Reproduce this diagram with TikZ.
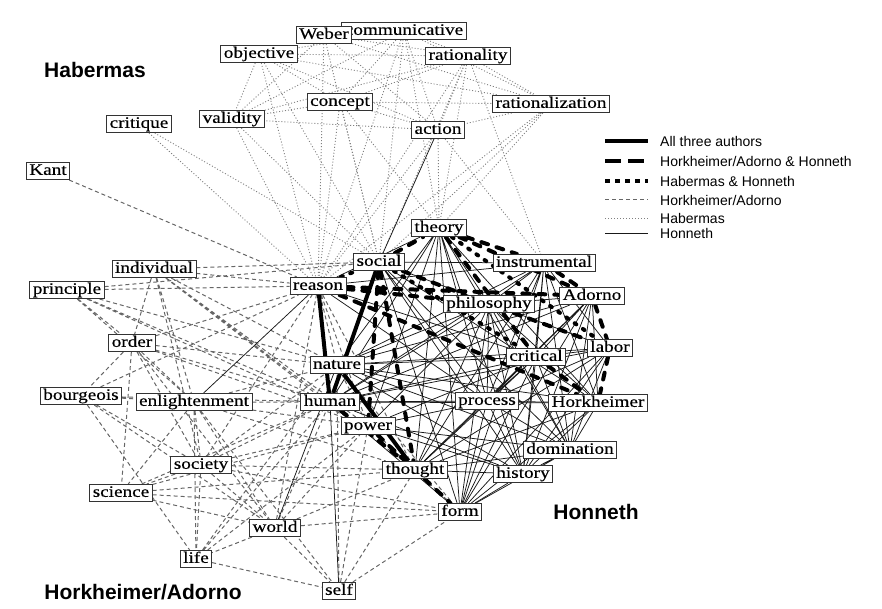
\documentclass[tikz,border=0pt]{standalone}
\usepackage{fontspec}
\newfontfamily\wordfont{Liberation Serif}[FakeStretch=1.2, FakeBold=0.4]
\newfontfamily\labelfont{Liberation Sans}
\usepackage{tikz}

\pgfdeclarelayer{edges}
\pgfsetlayers{edges,main}

\begin{document}
\begin{tikzpicture}[x=1pt, y=-1pt,
    word/.style={draw=black!80, fill=white, line width=0.8pt, inner xsep=3pt, inner ysep=1pt,
      text height=11.5pt, text depth=3.8pt, font=\wordfont\fontsize{16}{16}\selectfont},
    group/.style={font=\labelfont\bfseries\fontsize{21}{21}\selectfont},
    legendtext/.style={anchor=west, inner sep=0pt, font=\labelfont\fontsize{14}{14}\selectfont},
    allthree/.style={line width=4pt},
    hh/.style={line width=4pt, line cap=round, dash pattern=on 7pt off 9pt},
    hbh/.style={line width=4pt, line cap=round, dash pattern=on 2pt off 8pt},
    ha/.style={black!60, line width=1pt, dash pattern=on 4pt off 3pt},
    hab/.style={black!50, line width=0.9pt, dash pattern=on 1pt off 2pt},
    hon/.style={black!90, line width=0.75pt}]
			\useasboundingbox (0,0) rectangle (882,609);
			% Habermas
			\node[word] (Commun) at (404,31){communicative};
			\node[word] (Weber) at (324,35){Weber};
			\node[word] (Objective) at (259,54){objective};
			\node[word] (Rationality) at (468,56){rationality};
			\node[word] (Concept) at (340,102){concept};
			\node[word] (Rationalization) at (551,104){rationalization};
			\node[word] (Action) at (438,130){action};
			\node[word] (Validity) at (232,119){validity};
			\node[word] (Critique) at (139,124){critique};
			\node[word] (Kant) at (48,171){Kant};
			% Horkheimer/Adorno
			\node[word] (Individual) at (154,269){individual};
			\node[word] (Principle) at (67,290){principle};
			\node[word] (Order) at (132,343){order};
			\node[word] (Bourgeois) at (81,396){bourgeois};
			\node[word] (Enlight) at (194,402){enlightenment};
			\node[word] (Nature) at (337,365){nature};
			\node[word] (Human) at (330,402){human};
			\node[word] (Power) at (368,426){power};
			\node[word] (Society) at (201,465){society};
			\node[word] (Science) at (121,493){science};
			\node[word] (World) at (275,528){world};
			\node[word] (Life) at (196,559){life};
			\node[word] (Self) at (339,591){self};
			% Honneth
			\node[word] (Theory) at (439,228){theory};
			\node[word] (Reason) at (318,286){reason};
			\node[word] (Social) at (379,262){social};
			\node[word] (Instrumental) at (544,263){instrumental};
			\node[word] (Philosophy) at (489,304){philosophy};
			\node[word] (Adorno) at (592,296){Adorno};
			\node[word] (Critical) at (536,357){critical};
			\node[word] (Labor) at (610,348){labor};
			\node[word] (Process) at (487,401){process};
			\node[word] (Horkheimer) at (598,403){Horkheimer};
			\node[word] (Domination) at (570,450){domination};
			\node[word] (Thought) at (415,470){thought};
			\node[word] (History) at (523,474){history};
			\node[word] (Form) at (460,512){form};

			\node[group] (HabLabel) at (95,70){Habermas};
			\node[group] (HALabel) at (143,592){Horkheimer/Adorno};
			\node[group] (HonLabel) at (596,512){Honneth};

			\begin{pgfonlayer}{edges}
			% Habermas only
			\draw[hab] (Weber) -- (Rationality) (Weber) -- (Concept) (Weber) -- (Action)
				(Weber) -- (Reason) (Weber) -- (Social) (Weber) -- (Rationalization) (Weber) -- (Validity);
			\draw[hab] (Commun) -- (Objective) (Commun) -- (Rationality) (Commun) -- (Concept)
				(Commun) -- (Action) (Commun) -- (Rationalization) (Commun) -- (Reason)
				(Commun) -- (Social) (Commun) -- (Theory) (Commun) -- (Validity);
			\draw[hab] (Objective) -- (Rationality) (Objective) -- (Concept) (Objective) -- (Validity)
				(Objective) -- (Action) (Objective) -- (Reason) (Objective) -- (Social)
				(Objective) -- (Rationalization);
			\draw[hab] (Rationality) -- (Concept) (Rationality) -- (Action) (Rationality) -- (Rationalization)
				(Rationality) -- (Reason) (Rationality) -- (Social) (Rationality) -- (Theory)
				(Rationality) -- (Instrumental) (Rationality) -- (Validity);
			\draw[hab] (Concept) -- (Validity) (Concept) -- (Action) (Concept) -- (Rationalization)
				(Concept) -- (Reason) (Concept) -- (Social) (Concept) -- (Theory);
			\draw[hab] (Rationalization) -- (Action) (Rationalization) -- (Social)
				(Rationalization) -- (Reason) (Rationalization) -- (Theory);
			\draw[hab] (Action) -- (Validity) (Action) -- (Reason) (Action) -- (Theory) (Action) -- (Instrumental);
			\draw[hab] (Validity) -- (Reason) (Validity) -- (Social) (Critique) -- (Reason) (Critique) -- (Social);
			% Horkheimer/Adorno only
			\draw[ha] (Kant) -- (Reason);
			\draw[ha] (Individual) -- (Reason) (Individual) -- (Social) (Individual) -- (Nature)
				(Individual) -- (Human) (Individual) -- (Order) (Individual) -- (Enlight)
				(Individual) -- (Society) (Individual) -- (Power) (Individual) -- (Thought);
			\draw[ha] (Principle) -- (Reason) (Principle) -- (Social) (Principle) -- (Order)
				(Principle) -- (Nature) (Principle) -- (Human) (Principle) -- (Enlight) (Principle) -- (Power);
			\draw[ha] (Order) -- (Reason) (Order) -- (Nature) (Order) -- (Human) (Order) -- (Enlight)
				(Order) -- (Society) (Order) -- (Power) (Order) -- (Bourgeois) (Order) -- (Science) (Order) -- (World);
			\draw[ha] (Bourgeois) -- (Enlight) (Bourgeois) -- (Reason) (Bourgeois) -- (Society)
				(Bourgeois) -- (World) (Bourgeois) -- (Human) (Bourgeois) -- (Life);
			\draw[ha] (Enlight) -- (Nature) (Enlight) -- (Human) (Enlight) -- (Power) (Enlight) -- (Society)
				(Enlight) -- (Science) (Enlight) -- (World) (Enlight) -- (Life) (Enlight) -- (Thought) (Enlight) -- (Self);
			\draw[ha] (Society) -- (Reason) (Society) -- (Nature) (Society) -- (Human) (Society) -- (Power)
				(Society) -- (Science) (Society) -- (World) (Society) -- (Life) (Society) -- (Thought) (Society) -- (Form);
			\draw[ha] (Science) -- (Human) (Science) -- (World) (Science) -- (Form) (Science) -- (Power) (Science) -- (Thought);
			\draw[ha] (World) -- (Human) (World) -- (Power) (World) -- (Thought) (World) -- (Form)
				(World) -- (Life) (World) -- (Self) (World) -- (Reason);
			\draw[ha] (Life) -- (Self) (Life) -- (Human) (Life) -- (Nature) (Life) -- (Power);
			\draw[ha] (Self) -- (Power) (Self) -- (Thought) (Self) -- (Nature) (Self) -- (Form);
			\draw[ha] (Reason) -- (Nature) (Reason) -- (Power) (Reason) -- (Thought)
				(Nature) -- (Power) (Nature) -- (Form) (Power) -- (Form);
			% Honneth only
			\draw[hon] (Action) -- (Social) (Enlight) -- (Reason) (World) -- (Nature) (Self) -- (Human);
			\draw[hon] (Theory) -- (Philosophy) (Theory) -- (Process) (Theory) -- (Horkheimer)
				(Theory) -- (Domination) (Theory) -- (History) (Theory) -- (Form) (Theory) -- (Thought)
				(Theory) -- (Nature) (Theory) -- (Power) (Theory) -- (Human) (Theory) -- (Reason);
			\draw[hon] (Social) -- (Instrumental) (Social) -- (Process) (Social) -- (Horkheimer)
				(Social) -- (Domination) (Social) -- (History) (Social) -- (Form) (Social) -- (Labor);
			\draw[hon] (Instrumental) -- (Philosophy) (Instrumental) -- (Process) (Instrumental) -- (Critical)
				(Instrumental) -- (Horkheimer) (Instrumental) -- (Domination) (Instrumental) -- (History)
				(Instrumental) -- (Nature) (Instrumental) -- (Human) (Instrumental) -- (Thought)
				(Instrumental) -- (Form) (Instrumental) -- (Labor) (Instrumental) -- (Reason);
			\draw[hon] (Philosophy) -- (Adorno) (Philosophy) -- (Process) (Philosophy) -- (Horkheimer)
				(Philosophy) -- (Domination) (Philosophy) -- (History) (Philosophy) -- (Thought)
				(Philosophy) -- (Form) (Philosophy) -- (Nature) (Philosophy) -- (Human)
				(Philosophy) -- (Power) (Philosophy) -- (Critical);
			\draw[hon] (Adorno) -- (Critical) (Adorno) -- (Process) (Adorno) -- (Domination)
				(Adorno) -- (History) (Adorno) -- (Thought) (Adorno) -- (Human) (Adorno) -- (Nature)
				(Adorno) -- (Form) (Adorno) -- (Horkheimer);
			\draw[hon] (Labor) -- (Critical) (Labor) -- (Process) (Labor) -- (Domination) (Labor) -- (History)
				(Labor) -- (Thought) (Labor) -- (Form) (Labor) -- (Human) (Labor) -- (Nature);
			\draw[hon] (Critical) -- (Process) (Critical) -- (Domination) (Critical) -- (History)
				(Critical) -- (Thought) (Critical) -- (Form) (Critical) -- (Nature) (Critical) -- (Human)
				(Critical) -- (Power) (Critical) -- (Reason);
			\draw[hon] (Process) -- (Horkheimer) (Process) -- (Domination) (Process) -- (History)
				(Process) -- (Thought) (Process) -- (Form) (Process) -- (Human) (Process) -- (Nature)
				(Process) -- (Power) (Process) -- (Reason);
			\draw[hon] (Horkheimer) -- (Domination) (Horkheimer) -- (History) (Horkheimer) -- (Thought)
				(Horkheimer) -- (Form) (Horkheimer) -- (Human) (Horkheimer) -- (Nature);
			\draw[hon] (Domination) -- (History) (Domination) -- (Thought) (Domination) -- (Form)
				(Domination) -- (Power) (Domination) -- (Nature);
			\draw[hon] (History) -- (Thought) (History) -- (Form) (History) -- (Human) (History) -- (Power)
				(History) -- (Nature) (Form) -- (Human);
			% Habermas & Honneth
			\draw[hbh] (Reason) -- (Social) (Social) -- (Critical) (Theory) -- (Labor);
			% Horkheimer/Adorno & Honneth
			\draw[hh] (Social) -- (Theory) (Theory) -- (Instrumental) (Theory) -- (Adorno) (Theory) -- (Critical);
			\draw[hh] (Reason) -- (Philosophy) (Reason) -- (Adorno) (Reason) -- (Horkheimer);
			\draw[hh] (Social) -- (Philosophy) (Social) -- (Thought) (Social) -- (Power);
			\draw[hh] (Instrumental) -- (Adorno) (Adorno) -- (Labor) (Labor) -- (Horkheimer)
				(Critical) -- (Horkheimer) (Philosophy) -- (Labor);
			\draw[hh] (Human) -- (Thought) (Thought) -- (Form) (Power) -- (Thought);
			% all three authors
			\draw[allthree] (Reason) -- (Human) (Social) -- (Human) (Nature) -- (Thought);
			\end{pgfonlayer}

			% legend
			\coordinate (LegA) at (605,141);
			\coordinate (LegB) at (605,161);
			\coordinate (LegC) at (605,181);
			\coordinate (LegD) at (605,200);
			\coordinate (LegE) at (605,218);
			\coordinate (LegF) at (605,233);
			\node[legendtext] (TxtA) at (660,141){All three authors};
			\node[legendtext] (TxtB) at (660,161){Horkheimer/Adorno \& Honneth};
			\node[legendtext] (TxtC) at (660,181){Habermas \& Honneth};
			\node[legendtext] (TxtD) at (660,200){Horkheimer/Adorno};
			\node[legendtext] (TxtE) at (660,218){Habermas};
			\node[legendtext] (TxtF) at (660,233){Honneth};
			\draw[allthree] (LegA) -- ++(43,0);
			\draw[hh, dash pattern=on 16pt off 7pt, line cap=butt] (LegB) -- ++(43,0);
			\draw[hbh, dash pattern=on 5pt off 5pt, line cap=butt] (LegC) -- ++(43,0);
			\draw[ha] (LegD) -- ++(43,0);
			\draw[hab] (LegE) -- ++(43,0);
			\draw[hon] (LegF) -- ++(43,0);
		\end{tikzpicture}
\end{document}
